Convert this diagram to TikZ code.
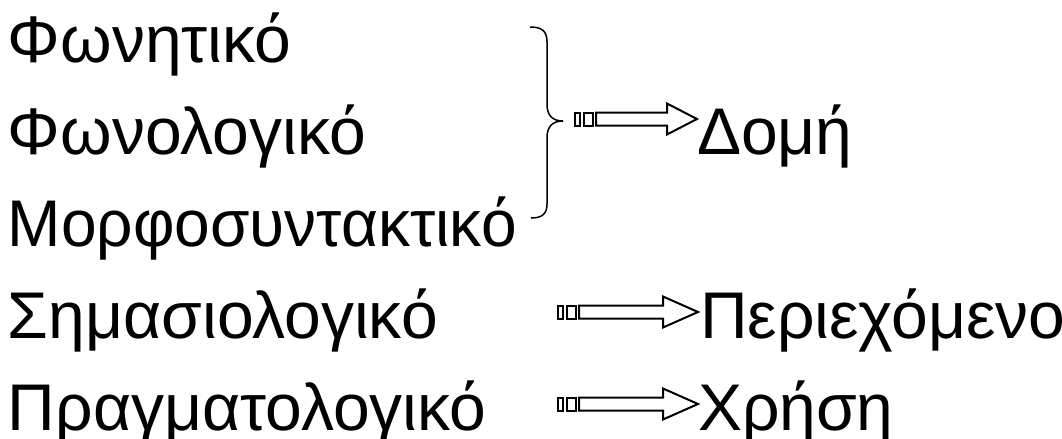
\documentclass[tikz,border=0pt]{standalone}
\usepackage{fontspec}
\setmainfont{Liberation Sans}
\tikzset{
  lbl/.style={anchor=base west, inner sep=0pt, outer sep=0pt, font=\fontsize{33}{40}\selectfont},
  blk/.style={draw=black, line width=1pt, fill=white, line join=miter},
  brace/.style={draw=black, line width=0.75pt}
}
% #1 start x, #2 tip x, #3 centre y, #4 head length
\newcommand\sarrow[4]{%
  \draw[blk] (#1,#3-6.5) rectangle (#1+4.5,#3+6.5);
  \draw[blk] (#1+8.5,#3-6.5) rectangle (#1+18,#3+6.5);
  \draw[blk] (#1+21,#3-6.5) -- (#2-#4,#3-6.5) -- (#2-#4,#3-15.5) -- (#2,#3) -- (#2-#4,#3+15.5) -- (#2-#4,#3+6.5) -- (#1+21,#3+6.5) -- cycle;
}
\begin{document}
\begin{tikzpicture}[x=0.5pt,y=-0.5pt]
\useasboundingbox (0,0) rectangle (1062,439);
\node[lbl] (a) at (8,62) {Φωνητικό};
\node[lbl] (b) at (8,154) {Φωνολογικό};
\node[lbl] (c) at (8,246) {\scalebox{0.97}[1]{Μορφοσυντακτικό}};
\node[lbl] (d) at (8,338) {Σημασιολογικό};
\node[lbl] (e) at (8,430) {Πραγματολογικό};
\node[lbl] (dom) at (697,154) {Δομή};
\node[lbl] (per) at (700,338) {Περιεχόμενο};
\node[lbl] (xri) at (698,430) {Χρήση};
\draw[brace] (530,27) .. controls (542,27) and (547,31) .. (547,42)
  -- (547,104) .. controls (547,115) and (552,121) .. (563,121)
  .. controls (552,121) and (547,127) .. (547,138)
  -- (547,204) .. controls (547,214) and (542,218) .. (531,218);
\sarrow{575}{697}{119}{30}
\sarrow{558}{698}{312}{35}
\sarrow{558}{698}{404}{35}
\end{tikzpicture}
\end{document}
